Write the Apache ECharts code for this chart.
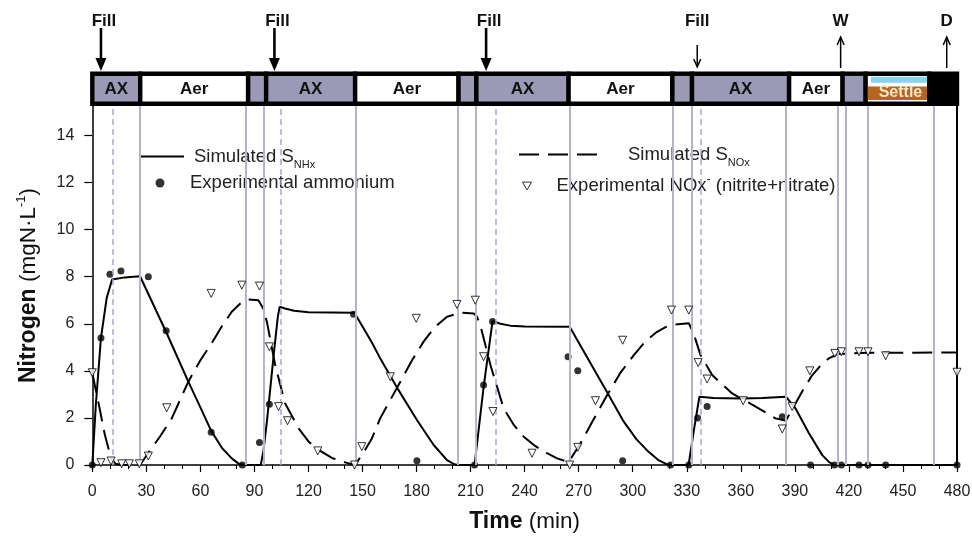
<!DOCTYPE html>
<html>
<head>
<meta charset="utf-8">
<script src="https://cdn.jsdelivr.net/npm/echarts@6/dist/echarts.min.js"></script>
<style>
  html, body { margin: 0; padding: 0; background: #fff; }
  #main { width: 972px; height: 536px; }
</style>
</head>
<body>
<div id="main"></div>
<script>
// ---- data ----
var yTicks = [0, 2, 4, 6, 8, 10, 12, 14];

// simulated S_NHx (solid)  [time min, mgN/L]
var simNHx = [[0,0],[2,2.6],[4.8,5.4],[8,7.1],[11,7.88],[18,7.97],[26.5,8.02],[41,5.65],[53.3,3.54],[60,2.45],[66,1.45],[72,0.72],[77.4,0.28],[81,0.07],[84,0],
  [93.5,0],[95,0.6],[97,1.9],[99,3.4],[101,4.9],[103,6.3],[104,6.72],[107,6.65],[112,6.55],[120,6.49],[145.5,6.47],[155.2,5.2],[159.8,4.53],[170,3.18],[180.2,1.91],[189.5,0.85],[196.9,0.21],[201,0.03],[203,0],
  [212.2,0],[217.2,3.3],[222.2,6.12],[226.5,6.0],[232,5.92],[240,5.88],[265,5.87],[287.2,2.9],[295,1.84],[302,1.1],[308,0.62],[314,0.22],[319,0.03],[322,0],
  [331,0],[334,1.5],[337,2.9],[345,2.85],[360,2.82],[372,2.85],[385,2.9],[390.4,2.4],[397.8,1.35],[405.2,0.42],[409,0.12],[412,0],[480,0]];

// simulated S_NOx (dashed)
var simNOx = [[0,3.9],[3.3,2.69],[7,1.27],[10.4,0.3],[13,0.05],[16,0],[26.5,0],[31,0.5],[37.5,1.2],[44.1,1.98],[53.3,3.54],[60,4.45],[66.3,5.17],[72,5.9],[77.4,6.51],[82,6.85],[86.7,7.03],[92.2,7.0],
  [94.5,6.7],[96.9,6.09],[101.5,4.25],[107,2.62],[114.5,1.56],[120,1.0],[125.6,0.64],[133,0.3],[140.4,0.11],[145.6,0],[150,0.45],[155.2,1.13],[159.8,1.98],[171,3.54],[177.5,4.45],[183.9,5.24],[190,5.85],[196.9,6.3],[204.3,6.47],[211.7,6.44],
  [213.5,6.3],[215.4,5.94],[221,4.25],[228.3,2.41],[234,1.7],[239.5,1.2],[246,0.8],[252.4,0.5],[258,0.28],[264.4,0.12],[265,0.05],[271,0.92],[278,1.9],[285.8,2.97],[293,3.9],[300.6,4.67],[307,5.25],[313.5,5.66],[318,5.85],[323.7,5.97],[331.1,6.02],
  [333.8,5.59],[337.6,4.67],[344.1,3.82],[355.2,3.04],[368.2,2.48],[379.3,1.98],[385,1.88],[390.4,2.62],[395,3.25],[399.7,3.82],[404,4.2],[408.9,4.53],[413.6,4.71],[425.6,4.76],[480,4.78]];

// experimental ammonium (filled circles)
var expNH4 = [[0,0],[4.8,5.4],[9.8,8.1],[15.9,8.24],[31.1,8.0],[41,5.7],[66,1.39],[83.3,0],[92.8,0.96],[98.3,2.58],[145,6.4],[180.2,0.18],[212.2,0],[217.2,3.4],[222.2,6.1],
  [264.1,4.6],[269.5,4.0],[294.4,0.18],[321,0],[331.1,0],[336,2.0],[341.3,2.48],[383,2.05],[398.7,0],[412,0],[415.8,0],[425.6,0],[430.6,0],[440.4,0],[480,0]];

// experimental NOx- (open triangles)
var expNOx = [[0,3.92],[4.8,0.1],[10.4,0.17],[16.3,0.05],[20.6,0.05],[26.1,0.05],[31.1,0.38],[41.3,2.43],[66,7.29],[83,7.64],[92.8,7.6],[98.3,5.02],[103.4,2.48],[108.4,1.88],[125.2,0.6],[145.6,0],[149.6,0.78],
  [165.4,3.75],[179.8,6.23],[202.4,6.82],[212.6,7.0],[217.2,4.6],[222.4,2.27],[244.1,0.5],[265,0],[269.5,0.75],[279.3,2.73],[294.4,5.3],[321.5,6.58],[331.1,6.58],[336.3,4.35],[341.3,3.65],[361.3,2.73],[383,1.53],
  [388.5,2.48],[398.3,4.0],[412.2,4.74],[415.8,4.81],[425.6,4.81],[430.6,4.81],[440.4,4.64],[480,3.94]];

// vertical guide lines (min)
var solidLines = [26.5, 85.2, 95, 146.5, 203, 213, 265, 322.4, 332.6, 385.2, 413.6, 418.2, 430.2, 466.9];
var dashedLines = [11.1, 104.8, 224, 337.6];
var endLine = [480];

// operating cycle bar
var phaseStart = [0, 26.6, 86.5, 96.5, 145.9, 203.3, 213.2, 264.4, 322, 332.9, 386.8, 416.5, 429.3, 464.6];
var phaseEnd   = [26.6, 86.5, 96.5, 145.9, 203.3, 213.2, 264.4, 322, 332.9, 386.8, 416.5, 429.3, 464.6, 480];
var phaseLabel = ['AX', 'Aer', '', 'AX', 'Aer', '', 'AX', 'Aer', '', 'AX', 'Aer', '', 'Settle', ''];
var phaseKind  = ['ax', 'aer', 'ax', 'ax', 'aer', 'ax', 'ax', 'aer', 'ax', 'ax', 'aer', 'ax', 'settle', 'end'];

// Fill / W / D arrows
var arrowTime  = [4.8, 101.1, 218.6, 335.8, 415.4, 474.3];
var arrowLabel = ['Fill', 'Fill', 'Fill', 'Fill', 'W', 'D'];
var arrowKind  = ['bold', 'bold', 'bold', 'down', 'up', 'up'];

var FONT = 'Liberation Sans, Arial, sans-serif';
var BAR_TOP = 71.5, BAR_H = 34.5;

function renderPhase(params, api) {
  var i = params.dataIndex;
  var x0 = api.coord([api.value(0), 0])[0];
  var x1 = api.coord([api.value(1), 0])[0];
  var kind = phaseKind[i];
  var ix = x0 + 2.2, iw = x1 - x0 - 4.4, iy = BAR_TOP + 4.4, ih = BAR_H - 8.8;
  var kids = [{ type: 'rect', shape: { x: x0 - 2.2, y: BAR_TOP, width: x1 - x0 + 4.4, height: BAR_H }, style: { fill: '#000' } }];
  if (kind === 'ax' || kind === 'aer') {
    kids.push({ type: 'rect', shape: { x: ix, y: iy, width: iw, height: ih }, style: { fill: kind === 'ax' ? '#9a9ab6' : '#fff' } });
  } else if (kind === 'settle') {
    kids.push({ type: 'rect', shape: { x: ix, y: iy, width: iw, height: ih }, style: { fill: '#fff' } });
    kids.push({ type: 'rect', shape: { x: ix + 3, y: iy + 0.8, width: iw - 3, height: 6 }, style: { fill: '#86d3ee' } });
    kids.push({ type: 'rect', shape: { x: ix, y: iy + 10.6, width: iw, height: 13.6 }, style: { fill: '#b6651f' } });
  }
  if (phaseLabel[i]) {
    var settle = kind === 'settle';
    kids.push({ type: 'text', x: (x0 + x1) / 2 + (settle ? 3 : 0), y: settle ? 93 : 89.5,
      style: { text: phaseLabel[i], font: 'bold ' + (settle ? 16 : 17) + 'px ' + FONT, fill: settle ? '#f6e6c6' : '#111',
        align: 'center', verticalAlign: 'middle', textAlign: 'center', textVerticalAlign: 'middle' } });
  }
  return { type: 'group', children: kids };
}

function renderArrow(params, api) {
  var i = params.dataIndex;
  var x = api.coord([api.value(0), 0])[0];
  var kind = arrowKind[i];
  var kids = [{ type: 'text', x: x + (kind === 'bold' ? 3 : 0), y: 21,
    style: { text: arrowLabel[i], font: 'bold 17px ' + FONT, fill: '#111',
      align: 'center', verticalAlign: 'middle', textAlign: 'center', textVerticalAlign: 'middle' } }];
  if (kind === 'bold') {
    kids.push({ type: 'line', shape: { x1: x, y1: 28, x2: x, y2: 61 }, style: { stroke: '#000', lineWidth: 2.6 } });
    kids.push({ type: 'polygon', shape: { points: [[x - 5.5, 58], [x + 5.5, 58], [x, 71]] }, style: { fill: '#000' } });
  } else if (kind === 'down') {
    kids.push({ type: 'line', shape: { x1: x, y1: 45, x2: x, y2: 67 }, style: { stroke: '#000', lineWidth: 1.5 } });
    kids.push({ type: 'polyline', shape: { points: [[x - 3.5, 59], [x, 67], [x + 3.5, 59]] }, style: { stroke: '#000', lineWidth: 1.5, fill: null } });
  } else {
    kids.push({ type: 'line', shape: { x1: x, y1: 68, x2: x, y2: 37 }, style: { stroke: '#000', lineWidth: 1.5 } });
    kids.push({ type: 'polyline', shape: { points: [[x - 3.5, 45], [x, 37], [x + 3.5, 45]] }, style: { stroke: '#000', lineWidth: 1.5, fill: null } });
  }
  return { type: 'group', children: kids };
}

var guideLines = [];
solidLines.forEach(function (t) { guideLines.push({ xAxis: t, lineStyle: { color: '#b4b4cf', width: 2, type: 'solid' } }); });
dashedLines.forEach(function (t) { guideLines.push({ xAxis: t, lineStyle: { color: '#a6a6d2', width: 1.5, type: [6, 4] } }); });
endLine.forEach(function (t) { guideLines.push({ xAxis: t, lineStyle: { color: '#000', width: 2, type: 'solid' } }); });

var legendText = { fontFamily: FONT, fontSize: 18.5, color: '#222', lineHeight: 22,
  rich: { sub: { fontSize: 11, lineHeight: 12, padding: [16, 0, 0, 0] },
          sup: { fontSize: 12, lineHeight: 12, padding: [0, 0, 12, 0] },
          g1: { width: 5 }, g2: { width: 20.5 }, g3: { width: 25 }, g4: { width: 20 } } };

var chart = echarts.init(document.getElementById('main'));
var option = {
  animation: false,
  textStyle: { fontFamily: FONT },
  grid: { left: 92.3, right: 15, top: 106, bottom: 71, outerBoundsMode: 'none', containLabel: false },
  legend: [
    { data: ['Simulated SNHx'], left: 140, top: 143, padding: 0, itemWidth: 43, itemHeight: 1, selectedMode: false,
      formatter: function () { return '{g1|}Simulated S{sub|NHx}'; }, textStyle: legendText },
    { data: ['Experimental ammonium'], left: 155.5, top: 172, padding: 0, itemWidth: 9, itemHeight: 9, selectedMode: false,
      formatter: function () { return '{g2|}Experimental ammonium'; }, textStyle: legendText },
    { data: ['Simulated SNOx'], left: 518, top: 141, padding: 0, itemWidth: 79, itemHeight: 1, selectedMode: false,
      formatter: function () { return '{g3|}Simulated S{sub|NOx}'; }, textStyle: legendText },
    { data: [{ name: 'Experimental NOx', icon: 'path://M0,0L10,0L5,8.66Z' }], left: 522, top: 174, padding: 0, itemWidth: 9, itemHeight: 8, selectedMode: false,
      itemStyle: { color: '#fff', borderColor: '#000', borderWidth: 1 },
      formatter: function () { return '{g4|}Experimental NOx{sup|-} (nitrite+nitrate)'; }, textStyle: legendText }
  ],
  xAxis: {
    type: 'value', min: 0, max: 480, interval: 30,
    name: '{b|Time} {r|(min)}', nameLocation: 'middle', nameGap: 45,
    nameTextStyle: { fontSize: 23, color: '#111', rich: { b: { fontSize: 23, fontWeight: 'bold', fontFamily: FONT }, r: { fontSize: 22.5, fontFamily: FONT } } },
    axisLine: { onZero: false, lineStyle: { color: '#000', width: 1.5 } },
    axisTick: { show: true, length: 7, lineStyle: { color: '#000', width: 1.2 } },
    minorTick: { show: true, splitNumber: 3, length: 4, lineStyle: { color: '#000', width: 1 } },
    axisLabel: { fontSize: 16, color: '#222', margin: 19 },
    splitLine: { show: false }
  },
  yAxis: {
    type: 'value', min: 0, max: 15.25, interval: 2,
    name: '{b|Nitrogen} {r|(mgN·L}{sup|-1}{r|)}', nameLocation: 'middle', nameGap: 52,
    nameTextStyle: { fontSize: 23, color: '#111', rich: {
      b: { fontSize: 23, fontWeight: 'bold', fontFamily: FONT }, r: { fontSize: 22.5, fontFamily: FONT },
      sup: { fontSize: 13, lineHeight: 13, padding: [0, 0, 15, 0], fontFamily: FONT } } },
    axisLine: { show: true, onZero: false, lineStyle: { color: '#000', width: 1.5 } },
    axisTick: { show: true, length: 8, customValues: yTicks, lineStyle: { color: '#000', width: 1.2 } },
    axisLabel: { fontSize: 16, color: '#222', margin: 18, customValues: yTicks },
    splitLine: { show: false }
  },
  series: [
    { name: 'guides', type: 'line', data: [], z: 1, silent: true,
      markLine: { silent: true, symbol: 'none', label: { show: false }, data: guideLines } },
    { name: 'Simulated SNHx', type: 'line', data: simNHx, symbol: 'none', z: 3,
      lineStyle: { color: '#000', width: 2 }, itemStyle: { color: '#000' } },
    { name: 'Simulated SNOx', type: 'line', data: simNOx, symbol: 'none', z: 3,
      lineStyle: { color: '#000', width: 2, type: [20, 9] }, itemStyle: { color: '#000' } },
    { name: 'Experimental ammonium', type: 'scatter', data: expNH4, symbol: 'circle', symbolSize: 7, z: 4,
      itemStyle: { color: '#000' } },
    { name: 'Experimental NOx', type: 'scatter', data: expNOx, symbol: 'triangle', symbolRotate: 180, symbolSize: 8, z: 5,
      itemStyle: { color: '#fff', borderColor: '#000', borderWidth: 1 } },
    { name: 'phases', type: 'custom', clip: false, silent: true, z: 6,
      data: phaseStart.map(function (s, i) { return [s, phaseEnd[i], 0]; }),
      encode: { x: [0, 1], y: 2 }, renderItem: renderPhase },
    { name: 'arrows', type: 'custom', clip: false, silent: true, z: 6,
      data: arrowTime.map(function (t) { return [t, 0]; }),
      encode: { x: 0, y: 1 }, renderItem: renderArrow }
  ]
};
chart.setOption(option);
</script>
</body>
</html>
